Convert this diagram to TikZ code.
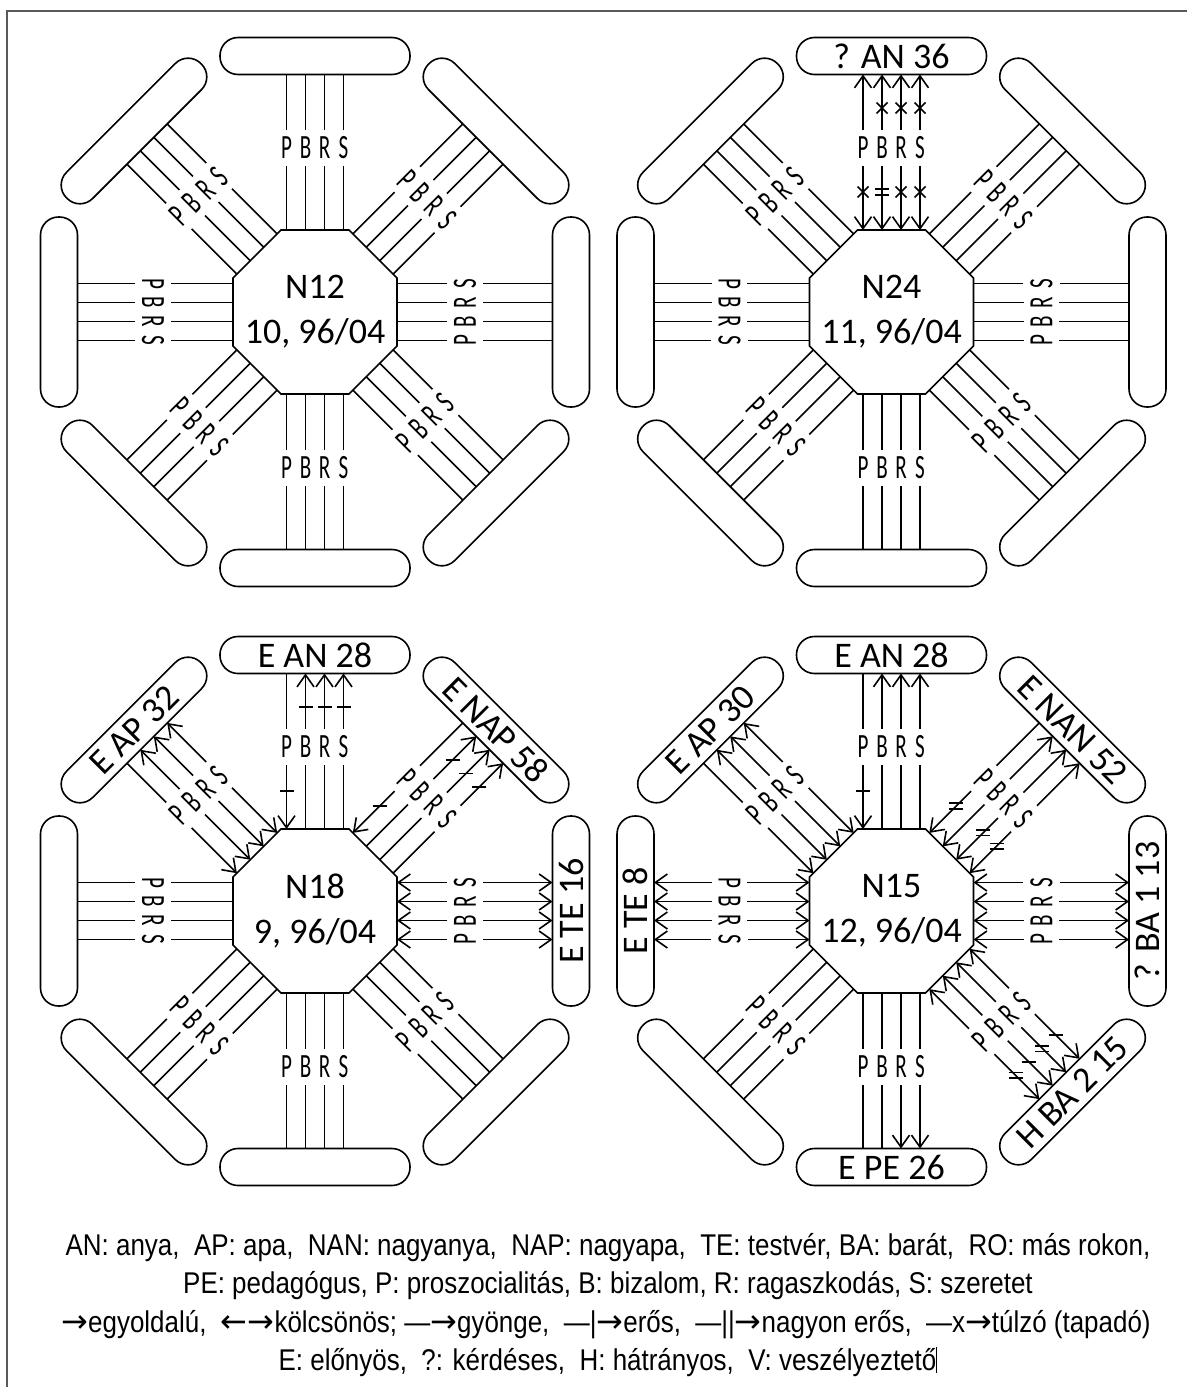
\documentclass[tikz,border=0pt]{standalone}
\usepackage{fontspec}
\setmainfont{Carlito}
\newfontfamily\legfont[FakeStretch=0.865]{Liberation Sans}
\newfontfamily\pbrsfont[FakeStretch=0.62]{Carlito}
\newfontfamily\arrfont{DejaVu Sans}
\usetikzlibrary{arrows.meta,shapes.geometric}
\newcommand\ar{{\arrfont\fontsize{32}{32}\selectfont →}}
\newcommand\la{{\arrfont\fontsize{32}{32}\selectfont ←}}
\tikzset{
  rim/.style={draw=black!65,line width=1.6pt},
  wire/.style={line width=1.6pt},
  hub/.style={draw,regular polygon,regular polygon sides=8,minimum size=177.5pt,inner sep=0pt,line width=1.6pt},
  hubtxt/.style={inner sep=0pt,align=center,font=\fontsize{36}{45}\selectfont},
  pers/.style={draw,rounded corners=18pt,minimum width=190pt,minimum height=37pt,inner sep=0pt,
    line width=1.6pt,font=\fontsize{36}{36}\selectfont},
  lett/.style={fill=white,inner xsep=1.5pt,inner ysep=7pt,font=\pbrsfont\fontsize{34}{34}\selectfont},
  leg/.style={inner sep=0pt,font=\legfont\fontsize{30}{36}\selectfont},
  tipn/.style={},
  tipa/.style={-{Straight Barb[length=12pt,width=17pt]}},
  tipb/.style={tipa},tipd/.style={tipa},tipx/.style={tipa},
  markn/.pic={},marka/.pic={},
  markb/.pic={\draw[wire] (-7,0) -- (7,0);},
  markd/.pic={\draw[wire] (-7,-2.8) -- (7,-2.8) (-7,2.8) -- (7,2.8);},
  markx/.pic={\draw[wire] (-5.5,-5.5) -- (5.5,5.5) (-5.5,5.5) -- (5.5,-5.5);},
}
% spoke: hub, axis angle, side, letter distance, text turn, person text, out/in codes of P,B,R,S
\newcommand\spoke[7]{%
  \begin{scope}[shift={(#1.center)},rotate=#2-90]
    \node[pers,transform shape,rotate=#5] (#1-#2) at (0,256) {#6};
    \foreach \dout/\din [count=\k from 0] in {#7}{
      \coordinate (#1-#2-\k-a) at ({#3*(\k-1.5)*19},82);
      \coordinate (#1-#2-\k-l) at ({#3*(\k-1.5)*19},#4);
      \coordinate (#1-#2-\k-b) at ({#3*(\k-1.5)*19},237.5);
      \draw[wire,tip\din] (#1-#2-\k-l) -- (#1-#2-\k-a);
      \draw[wire,tip\dout] (#1-#2-\k-l) -- (#1-#2-\k-b);
      \pic at ({#3*(\k-1.5)*19},120) {mark\din};
      \pic at ({#3*(\k-1.5)*19},204) {mark\dout};
      \node[lett,transform shape,rotate={90-90*#3}] (#1-#2-\k-t) at (#1-#2-\k-l) {\ifcase\k P\or B\or R\or S\fi};
    }
  \end{scope}}

\begin{document}
\begin{tikzpicture}[x=1pt,y=1pt]
\useasboundingbox (0,0) rectangle (1187,-1387);
\draw[rim] (7,-1387) -- (7,-11) -- (1187,-11);

\node[hub] (h12) at (315,-312) {};
\node[hub] (h24) at (891.5,-312) {};
\node[hub] (h18) at (315,-911) {};
\node[hub] (h15) at (891.5,-911) {};
\node[hubtxt] (h12t) at (h12) {N12\\10, 96/04};
\node[hubtxt] (h24t) at (h24) {N24\\11, 96/04};
\node[hubtxt] (h18t) at (h18) {N18\\9, 96/04};
\node[hubtxt] (h15t) at (h15) {N15\\12, 96/04};

% N12
\foreach \ang/\sd/\dl/\rt in {90/1/164/0,45/1/159/0,0/-1/150/180,-45/-1/156/180,-90/-1/156/180,-135/-1/163/180,180/-1/162/0,135/1/164/0}
  {\spoke{h12}{\ang}{\sd}{\dl}{\rt}{}{n/n,n/n,n/n,n/n}}

% N24
\spoke{h24}{90}{1}{164}{0}{? AN 36}{a/x,x/d,x/x,x/x}
\foreach \ang/\sd/\dl/\rt in {45/1/159/0,0/-1/150/180,-45/-1/156/180,-90/-1/156/180,-135/-1/163/180,180/-1/162/0,135/1/164/0}
  {\spoke{h24}{\ang}{\sd}{\dl}{\rt}{}{n/n,n/n,n/n,n/n}}

% N18
\spoke{h18}{90}{1}{164}{0}{E AN 28}{n/b,b/n,b/n,b/n}
\spoke{h18}{45}{1}{159}{0}{E NAP 58}{n/b,b/n,b/n,b/n}
\spoke{h18}{0}{-1}{150}{180}{E TE 16}{a/a,a/a,a/a,a/a}
\spoke{h18}{135}{1}{164}{0}{E AP 32}{n/a,a/a,a/a,a/a}
\foreach \ang/\sd/\dl/\rt in {-45/-1/156/180,-90/-1/156/180,-135/-1/163/180,180/-1/162/0}
  {\spoke{h18}{\ang}{\sd}{\dl}{\rt}{}{n/n,n/n,n/n,n/n}}

% N15
\spoke{h15}{90}{1}{164}{0}{E AN 28}{n/b,a/n,a/n,a/n}
\spoke{h15}{45}{1}{159}{0}{E NAN 52}{n/d,a/a,a/d,a/d}
\spoke{h15}{0}{-1}{150}{180}{? BA 1 13}{a/a,a/a,a/a,a/a}
\spoke{h15}{-45}{-1}{156}{180}{H BA 2 15}{d/a,b/a,d/a,b/a}
\spoke{h15}{-90}{-1}{156}{180}{E PE 26}{n/n,n/n,a/n,a/n}
\spoke{h15}{-135}{-1}{163}{180}{}{n/n,n/n,n/n,n/n}
\spoke{h15}{180}{-1}{162}{0}{E TE 8}{a/a,a/a,a/a,a/a}
\spoke{h15}{135}{1}{164}{0}{E AP 30}{n/a,a/a,a/a,a/a}

% legend
\node[leg,anchor=base] (leg1) at (608,-1255) {AN: anya,~ AP: apa,~ NAN: nagyanya,~ NAP: nagyapa,~ TE: testvér, BA: barát,~ RO: más rokon,};
\node[leg,anchor=base] (leg2) at (608,-1293) {PE: pedagógus, P: proszocialitás, B: bizalom, R: ragaszkodás, S: szeretet};
\node[leg,anchor=base] (leg3) at (606,-1332) {\ar egyoldalú,~ \la\ar kölcsönös; —\ar gyönge,~ —|\ar erős,~ —||\ar nagyon erős,~ —x\ar túlzó (tapadó)};
\node[leg,anchor=base] (leg4) at (608,-1370) {E: előnyös,~ ?: kérdéses,~ H: hátrányos,~ V: veszélyeztető\rule[-3pt]{1pt}{26pt}};
\end{tikzpicture}
\end{document}
